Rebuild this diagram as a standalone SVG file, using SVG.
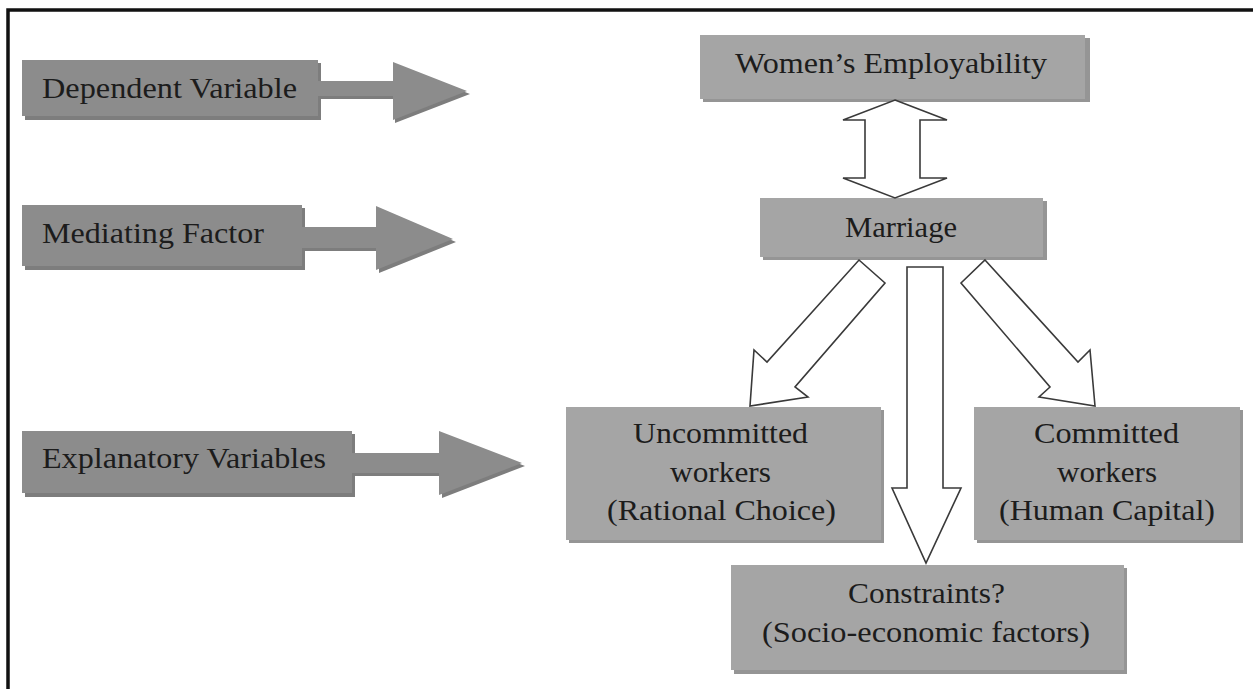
<svg xmlns="http://www.w3.org/2000/svg" width="1253" height="689" viewBox="0 0 1253 689">
<style>
.bg{fill:#ffffff}
.frame{stroke:#111;stroke-width:3.5;fill:none}
.dk{fill:#8c8c8c}
.dks{fill:#7d7d7d}
.lt{fill:#a5a5a5}
.lts{fill:#959595}
.hollow{fill:#ffffff;stroke:#3a3a3a;stroke-width:1.6;stroke-linejoin:miter}
text{font-family:"Liberation Serif","Times New Roman",serif;font-size:30px;fill:#1c1c1c;text-anchor:middle}
</style>
<rect class="bg" x="0" y="0" width="1253" height="689"/>
<path class="frame" d="M8,689 V10 H1253"/>

<g id="dependent-variable">
<rect class="dks" x="25" y="63" width="296" height="57"/>
<rect class="dk" x="22" y="60" width="296" height="56"/>
<polygon class="dks" points="320,84 395,84 395,65 470,94 395,123 395,99 320,99"/>
<polygon class="dk" points="318,81 393,81 393,62 467,91 393,120 393,96 318,96"/>
<text x="169.5" y="98" textLength="255" lengthAdjust="spacingAndGlyphs">Dependent Variable</text>
</g>

<g id="mediating-factor">
<rect class="dks" x="25" y="208" width="280" height="62"/>
<rect class="dk" x="22" y="205" width="280" height="61"/>
<polygon class="dks" points="304,230 379,230 379,209 456,242 379,273 379,251 304,251"/>
<polygon class="dk" points="301,227 376,227 376,206 453,239 376,270 376,248 301,248"/>
<text x="153" y="243" textLength="222" lengthAdjust="spacingAndGlyphs">Mediating Factor</text>
</g>

<g id="explanatory-variables">
<rect class="dks" x="25" y="434" width="330" height="63"/>
<rect class="dk" x="22" y="431" width="330" height="62"/>
<polygon class="dks" points="354,456 442,456 442,434 525,466 442,498 442,476 354,476"/>
<polygon class="dk" points="351,453 439,453 439,431 522,463 439,495 439,473 351,473"/>
<text x="184" y="468" textLength="284" lengthAdjust="spacingAndGlyphs">Explanatory Variables</text>
</g>

<g id="womens-employability">
<rect class="lts" x="703" y="38" width="387" height="64"/>
<rect class="lt" x="700" y="35" width="385" height="64"/>
<text x="891" y="73" textLength="312" lengthAdjust="spacingAndGlyphs">Women’s Employability</text>
</g>

<g id="marriage">
<rect class="lts" x="763" y="201" width="284" height="59"/>
<rect class="lt" x="760" y="198" width="283" height="59"/>
<text x="901" y="237" textLength="112" lengthAdjust="spacingAndGlyphs">Marriage</text>
</g>

<g id="uncommitted-workers">
<rect class="lts" x="569" y="410" width="315" height="133"/>
<rect class="lt" x="566" y="407" width="315" height="133"/>
<text x="720.5" y="443" textLength="175" lengthAdjust="spacingAndGlyphs">Uncommitted</text>
<text x="720.5" y="482" textLength="101" lengthAdjust="spacingAndGlyphs">workers</text>
<text x="721.5" y="520" textLength="229" lengthAdjust="spacingAndGlyphs">(Rational Choice)</text>
</g>

<g id="committed-workers">
<rect class="lts" x="977" y="410" width="266" height="133"/>
<rect class="lt" x="974" y="407" width="266" height="133"/>
<text x="1106.5" y="443" textLength="145" lengthAdjust="spacingAndGlyphs">Committed</text>
<text x="1107" y="482" textLength="100" lengthAdjust="spacingAndGlyphs">workers</text>
<text x="1107" y="520" textLength="216" lengthAdjust="spacingAndGlyphs">(Human Capital)</text>
</g>

<g id="constraints">
<rect class="lts" x="734" y="568" width="393" height="106"/>
<rect class="lt" x="731" y="565" width="393" height="105"/>
<text x="926.5" y="603" textLength="157" lengthAdjust="spacingAndGlyphs">Constraints?</text>
<text x="926" y="642" textLength="328" lengthAdjust="spacingAndGlyphs">(Socio-economic factors)</text>
</g>

<g id="connectors">
<polygon class="hollow" points="895,100 947,120 920,120 920,178 947,178 895,198 843,178 865,178 865,120 843,120"/>
<polygon class="hollow" points="859,260 885,283 795,387 808,397 750,406 754,350 767,362"/>
<polygon class="hollow" points="985,260 1078,362 1090,350 1095,406 1039,397 1050,387 961,283"/>
<polygon class="hollow" points="907,267 943,267 943,488 961,488 926,563 892,488 907,488"/>
</g>
</svg>
